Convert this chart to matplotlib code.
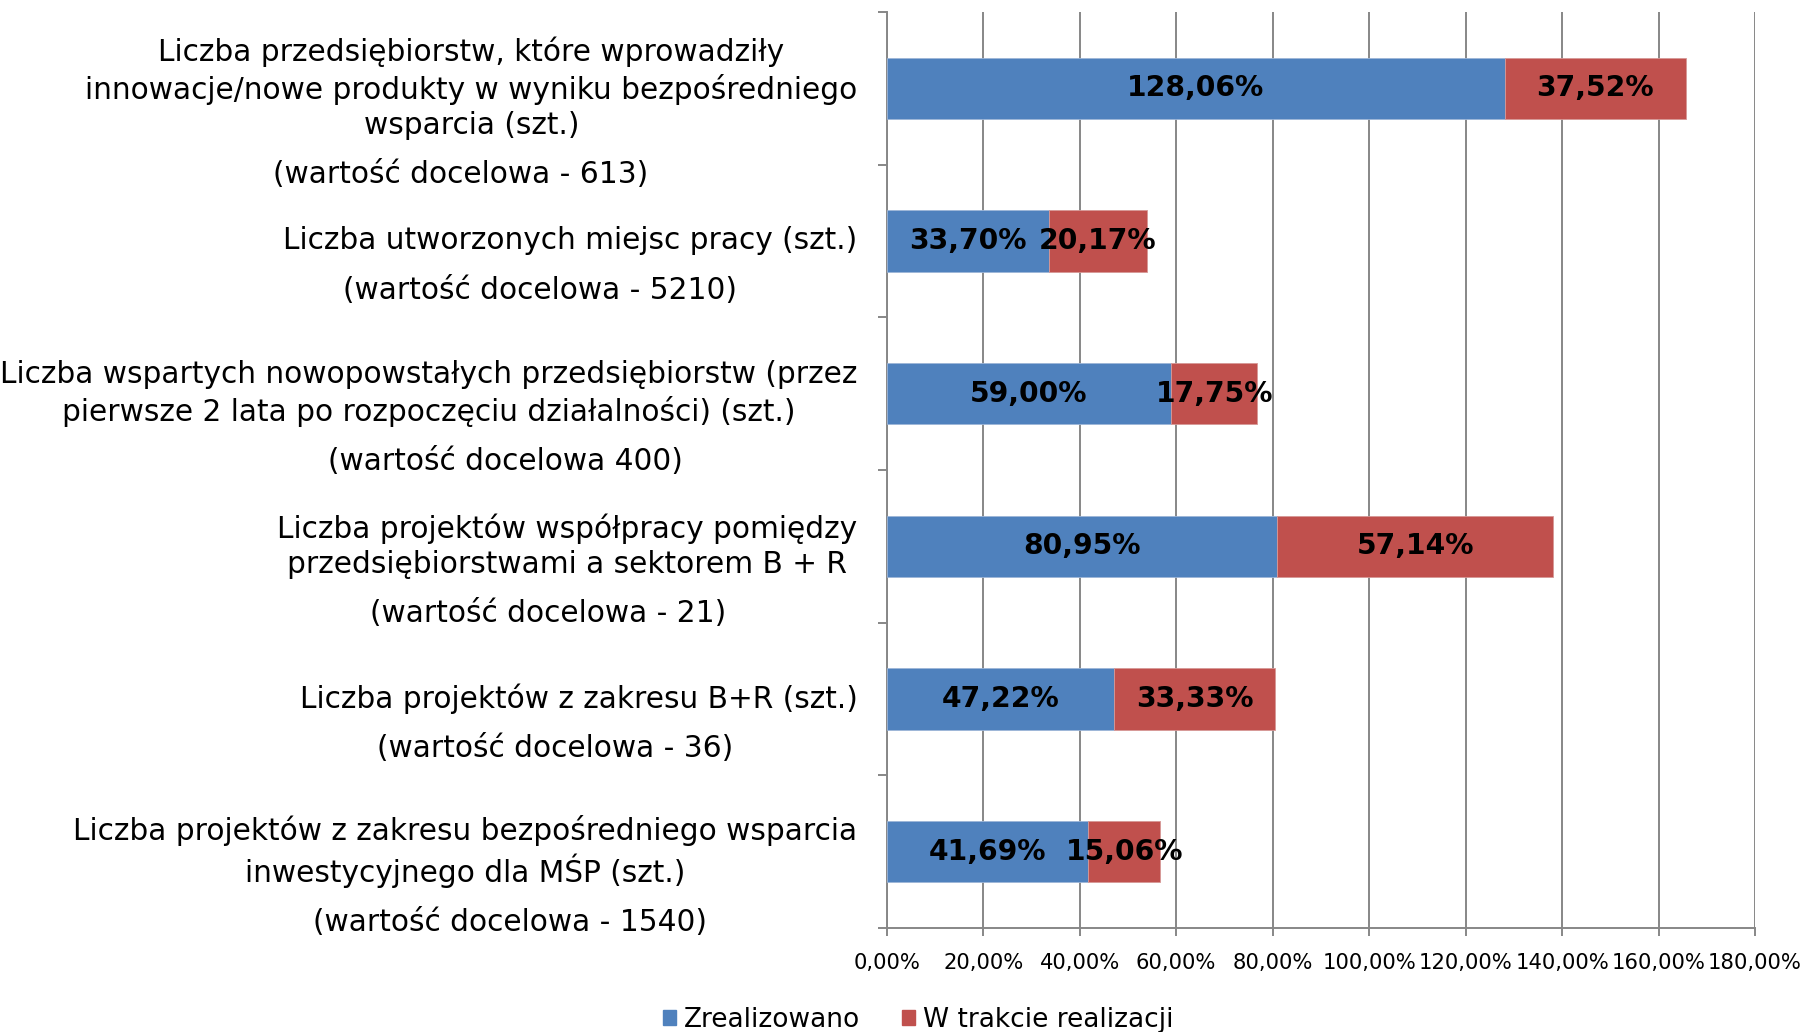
import matplotlib.pyplot as plt
from matplotlib.patches import Patch
from matplotlib.ticker import FuncFormatter, MultipleLocator

plt.rcParams['font.family'] = ['DejaVu Sans']

# wskazniki (od gory)
categories = [
    "Liczba przedsiębiorstw, które wprowadziły\ninnowacje/nowe produkty w wyniku bezpośredniego\nwsparcia (szt.)",
    "Liczba utworzonych miejsc pracy (szt.)",
    "Liczba wspartych nowopowstałych przedsiębiorstw (przez\npierwsze 2 lata po rozpoczęciu działalności) (szt.)",
    "Liczba projektów współpracy pomiędzy\nprzedsiębiorstwami a sektorem B + R",
    "Liczba projektów z zakresu B+R (szt.)",
    "Liczba projektów z zakresu bezpośredniego wsparcia\ninwestycyjnego dla MŚP (szt.)",
]
targets = [
    "(wartość docelowa - 613)",
    "(wartość docelowa - 5210)",
    "(wartość docelowa 400)",
    "(wartość docelowa - 21)",
    "(wartość docelowa - 36)",
    "(wartość docelowa - 1540)",
]
zrealizowano = [128.06, 33.70, 59.00, 80.95, 47.22, 41.69]
w_trakcie = [37.52, 20.17, 17.75, 57.14, 33.33, 15.06]

# przesuniecie linii "(wartość docelowa ...)" wzgledem srodka etykiety (pt)
target_dx = [-8, -22, 55, -14, -17, 32]

BLUE = '#4F81BD'
RED = '#C0504D'
GRAY = '#878787'


def pct(v):
    return f"{v:.2f}".replace('.', ',') + '%'


fig = plt.figure(figsize=(18.04, 10.32), dpi=100)
ax = fig.add_axes([0.4915, 0.1008, 0.9729 - 0.4915, 0.98837 - 0.1008])

y = list(range(len(categories)))
b1 = ax.barh(y, zrealizowano, height=0.4, color=BLUE, edgecolor='#9db6d8',
             linewidth=0.6, zorder=3, label='Zrealizowano')
b2 = ax.barh(y, w_trakcie, left=zrealizowano, height=0.4, color=RED,
             edgecolor='#d69896', linewidth=0.6, zorder=3, label='W trakcie realizacji')

ax.bar_label(b1, labels=[pct(v) for v in zrealizowano], label_type='center',
             fontsize=20.3, fontweight='bold', color='black', zorder=5)
ax.bar_label(b2, labels=[pct(v) for v in w_trakcie], label_type='center',
             fontsize=20.3, fontweight='bold', color='black', zorder=5)

ax.set_xlim(0, 180)
ax.set_ylim(len(categories) - 0.5, -0.5)
ax.xaxis.set_major_locator(MultipleLocator(20))
ax.xaxis.set_major_formatter(FuncFormatter(lambda v, p: pct(v)))
ax.set_yticks([i - 0.5 for i in range(len(categories) + 1)])
ax.set_yticklabels([])

ax.grid(axis='x', color=GRAY, linewidth=1.4, zorder=0)
for s in ['top', 'right']:
    ax.spines[s].set_visible(False)
for s in ['left', 'bottom']:
    ax.spines[s].set_color(GRAY)
    ax.spines[s].set_linewidth(1.4)
ax.tick_params(axis='x', length=6, width=1.4, color=GRAY, labelsize=15.2, pad=12)
ax.tick_params(axis='y', length=6.5, width=1.4, color=GRAY)

# etykiety kategorii z wartoscia docelowa pod spodem
for i, (cat, tgt) in enumerate(zip(categories, targets)):
    t = ax.annotate(cat, xy=(0, i), xycoords=('axes fraction', 'data'),
                    xytext=(-21, 0), textcoords='offset points',
                    ha='right', va='center', multialignment='center',
                    fontsize=21.3, linespacing=1.26)
    ax.annotate(tgt, xy=(0.5, 0), xycoords=t, xytext=(target_dx[i], -25),
                textcoords='offset points', ha='center', va='center', fontsize=21.3)

handles = [Patch(color=BLUE), Patch(color=RED)]
fig.legend(handles, ['Zrealizowano', 'W trakcie realizacji'], loc='center',
           bbox_to_anchor=(0.509, 0.012), ncol=2, frameon=False, fontsize=19,
           handlelength=0.48, handleheight=0.48, handletextpad=0.3, columnspacing=1.6)

fig.savefig('out.png', dpi=100)
